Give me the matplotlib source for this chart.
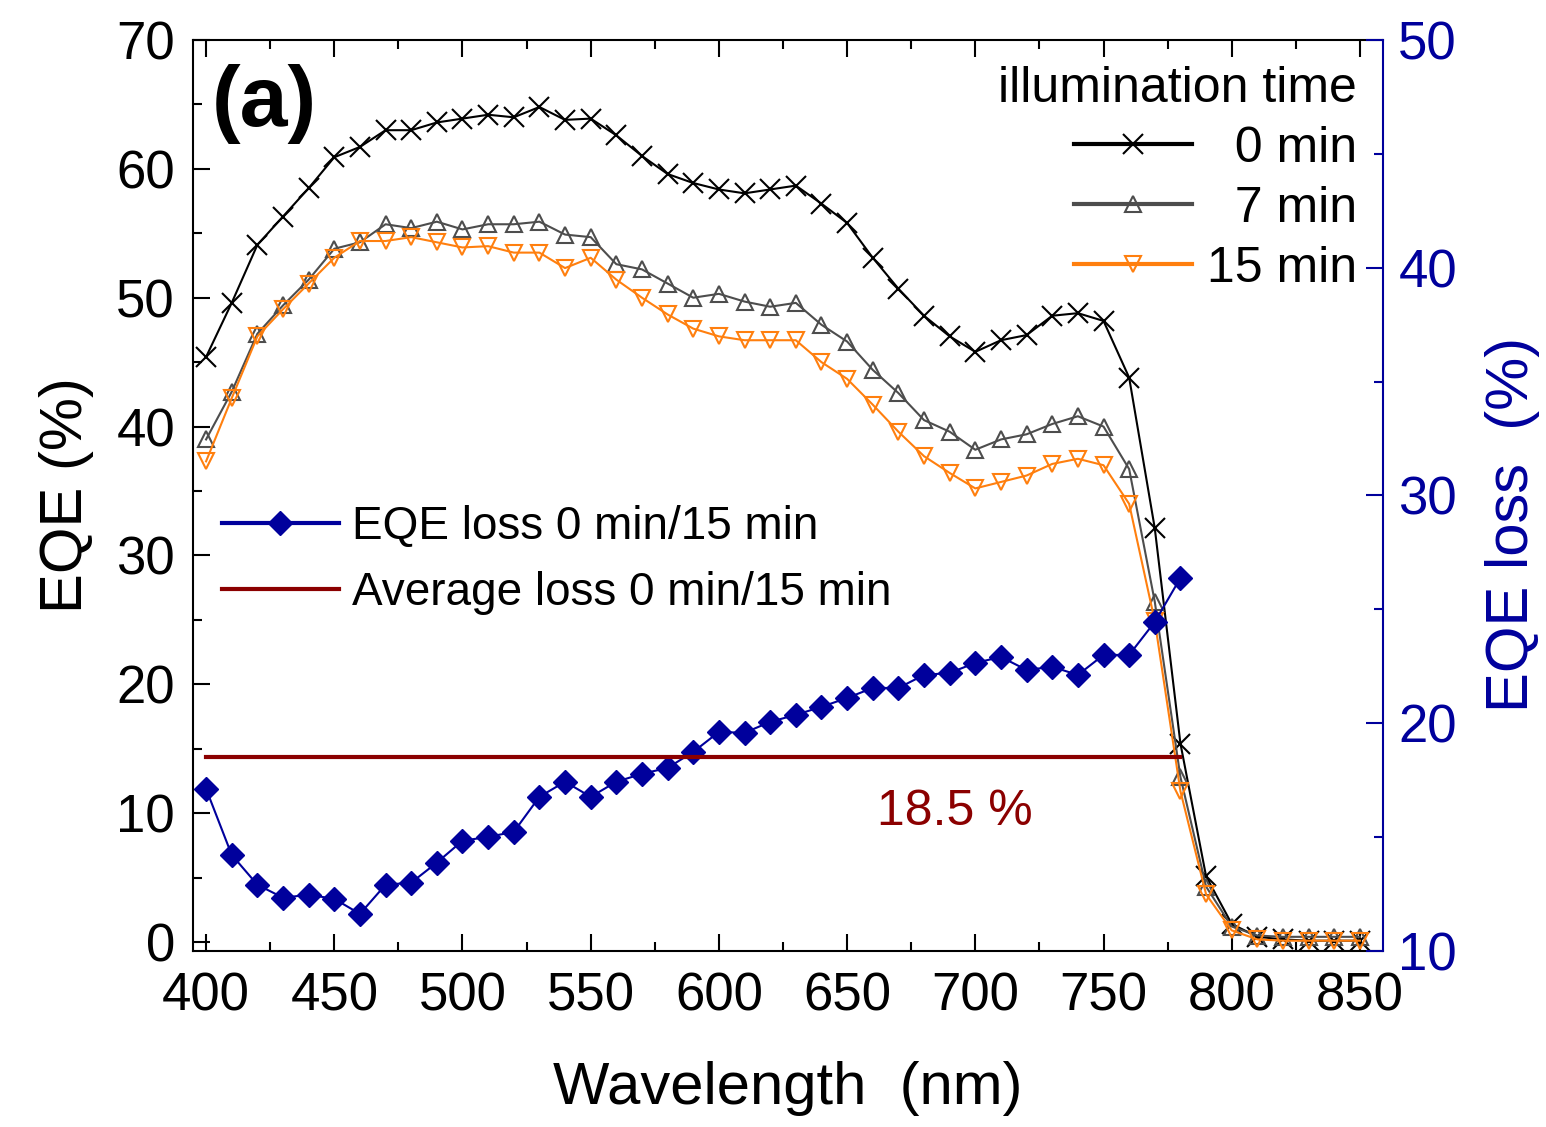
import matplotlib
matplotlib.use("Agg")
import matplotlib.pyplot as plt
from matplotlib.ticker import MultipleLocator

plt.rcParams['font.family'] = ['Liberation Sans', 'DejaVu Sans']

# ---------------- datos ----------------
wavelength = list(range(400, 860, 10))
eqe_0min = [45.4, 49.6, 54.1, 56.3, 58.5, 60.9, 61.7, 63.0, 63.0, 63.6,
            63.9, 64.2, 64.0, 64.8, 63.8, 63.9, 62.6, 61.0, 59.6, 58.9,
            58.4, 58.1, 58.4, 58.7, 57.3, 55.8, 53.1, 50.7, 48.6, 47.0,
            45.8, 46.7, 47.1, 48.6, 48.8, 48.2, 43.8, 32.1, 15.4, 5.1,
            1.4, 0.4, 0.2, 0.1, 0.1, 0.1]
eqe_7min = [39.0, 42.7, 47.2, 49.4, 51.4, 53.8, 54.3, 55.7, 55.4, 55.9,
            55.3, 55.7, 55.7, 55.9, 54.9, 54.7, 52.6, 52.2, 51.1, 50.0,
            50.3, 49.7, 49.3, 49.6, 47.9, 46.6, 44.4, 42.6, 40.5, 39.6,
            38.2, 39.0, 39.4, 40.2, 40.8, 40.0, 36.7, 26.4, 12.8, 4.3,
            1.2, 0.5, 0.4, 0.4, 0.4, 0.4]
eqe_15min = [37.3, 42.2, 47.0, 49.1, 51.1, 53.1, 54.4, 54.4, 54.7, 54.3,
             53.9, 54.0, 53.5, 53.5, 52.3, 53.1, 51.4, 50.0, 48.7, 47.6,
             47.0, 46.7, 46.7, 46.7, 45.0, 43.7, 41.7, 39.6, 37.7, 36.4,
             35.2, 35.7, 36.2, 37.1, 37.5, 37.0, 34.0, 24.9, 11.7, 3.7,
             0.9, 0.2, 0.1, 0.1, 0.1, 0.1]

loss_wavelength = list(range(400, 790, 10))
eqe_loss = [17.12, 14.22, 12.91, 12.34, 12.47, 12.29, 11.63, 12.91, 13.0, 13.88,
            14.84, 15.01, 15.23, 16.77, 17.43, 16.77, 17.43, 17.78, 18.04, 18.74,
            19.62, 19.58, 20.06, 20.37, 20.72, 21.11, 21.55, 21.55, 22.12, 22.21,
            22.65, 22.91, 22.34, 22.48, 22.12, 23.0, 23.0, 24.45, 26.38]
avg_loss = 18.5

BLUE = '#00009C'
DARKRED = '#8B0000'
ORANGE = '#FF7F0E'
GRAY = '#4D4D4D'

# ---------------- figura ----------------
fig = plt.figure(figsize=(15.46, 11.27), dpi=100)
ax = fig.add_axes([193 / 1546, 1 - 951 / 1127, 1190 / 1546, 911 / 1127])
ax2 = ax.twinx()

l0, = ax.plot(wavelength, eqe_0min, color='black', lw=1.5, marker='x',
              ms=15, mew=1.5, label='  0 min')
l7, = ax.plot(wavelength, eqe_7min, color=GRAY, lw=1.5, marker='^',
              ms=11.5, mew=1.5, mfc='none', label='  7 min')
l15, = ax.plot(wavelength, eqe_15min, color=ORANGE, lw=1.5, marker='v',
               ms=11.5, mew=1.5, mfc='none', label='15 min')

lloss, = ax2.plot(loss_wavelength, eqe_loss, color=BLUE, lw=1.5, marker='D',
                  ms=12, label='EQE loss 0 min/15 min')
lavg, = ax2.plot([loss_wavelength[0], loss_wavelength[-1]], [avg_loss, avg_loss],
                 color=DARKRED, lw=3, label='Average loss 0 min/15 min')
ax2.text(692, 16.1, '18.5 %', color=DARKRED, fontsize=36,
         ha='center', va='center')

# ejes
ax.set_xlim(394.9, 859)
ax.set_ylim(-0.7, 70)
ax2.set_ylim(10, 50)

ax.xaxis.set_major_locator(MultipleLocator(50))
ax.xaxis.set_minor_locator(MultipleLocator(25))
ax.yaxis.set_major_locator(MultipleLocator(10))
ax.yaxis.set_minor_locator(MultipleLocator(5))
ax2.yaxis.set_major_locator(MultipleLocator(10))
ax2.yaxis.set_minor_locator(MultipleLocator(5))

ax.tick_params(which='both', direction='in', top=True, right=False,
               labelsize=38, width=1.5)
ax.tick_params(which='major', length=12)
ax.tick_params(which='minor', length=6.5)
ax.tick_params(axis='x', pad=15)
ax.tick_params(axis='y', pad=13)
ax2.tick_params(which='both', direction='in', colors=BLUE,
                labelsize=38, width=1.5, pad=11)
ax2.tick_params(which='major', length=12)
ax2.tick_params(which='minor', length=6.5)

for s in ax.spines.values():
    s.set_linewidth(1.5)
ax.spines['right'].set_visible(False)
for k in ['left', 'top', 'bottom']:
    ax2.spines[k].set_visible(False)
ax2.spines['right'].set_color(BLUE)
ax2.spines['right'].set_linewidth(1.5)

ax.set_xlabel('Wavelength  (nm)', fontsize=43, labelpad=28)
ax.set_ylabel('EQE (%)', fontsize=43, labelpad=16)
ax2.set_ylabel('EQE loss  (%)', fontsize=43, color=BLUE, labelpad=20)
ax2.yaxis.label.set_y(0.468)

ax.text(0.016, 0.93, '(a)', transform=ax.transAxes, fontsize=62,
        fontweight='bold', ha='left', va='center')

# leyendas
leg1 = ax.legend(handles=[l0, l7, l15], title='illumination time',
                 loc='upper right', bbox_to_anchor=(0.978, 0.972),
                 frameon=False, fontsize=36, title_fontsize=36,
                 alignment='right', handlelength=2.36, handletextpad=0.3,
                 labelspacing=0.28, borderpad=0, borderaxespad=0)
for ln in leg1.get_lines():
    ln.set_linewidth(3)

leg2 = ax2.legend(handles=[lloss, lavg], loc='center left',
                  bbox_to_anchor=(0.024, 0.429), frameon=False, fontsize=33,
                  handlelength=2.57, handletextpad=0.28, labelspacing=0.49,
                  borderpad=0, borderaxespad=0)
for ln in leg2.get_lines():
    ln.set_linewidth(3)

fig.savefig('out.png', dpi=100)
